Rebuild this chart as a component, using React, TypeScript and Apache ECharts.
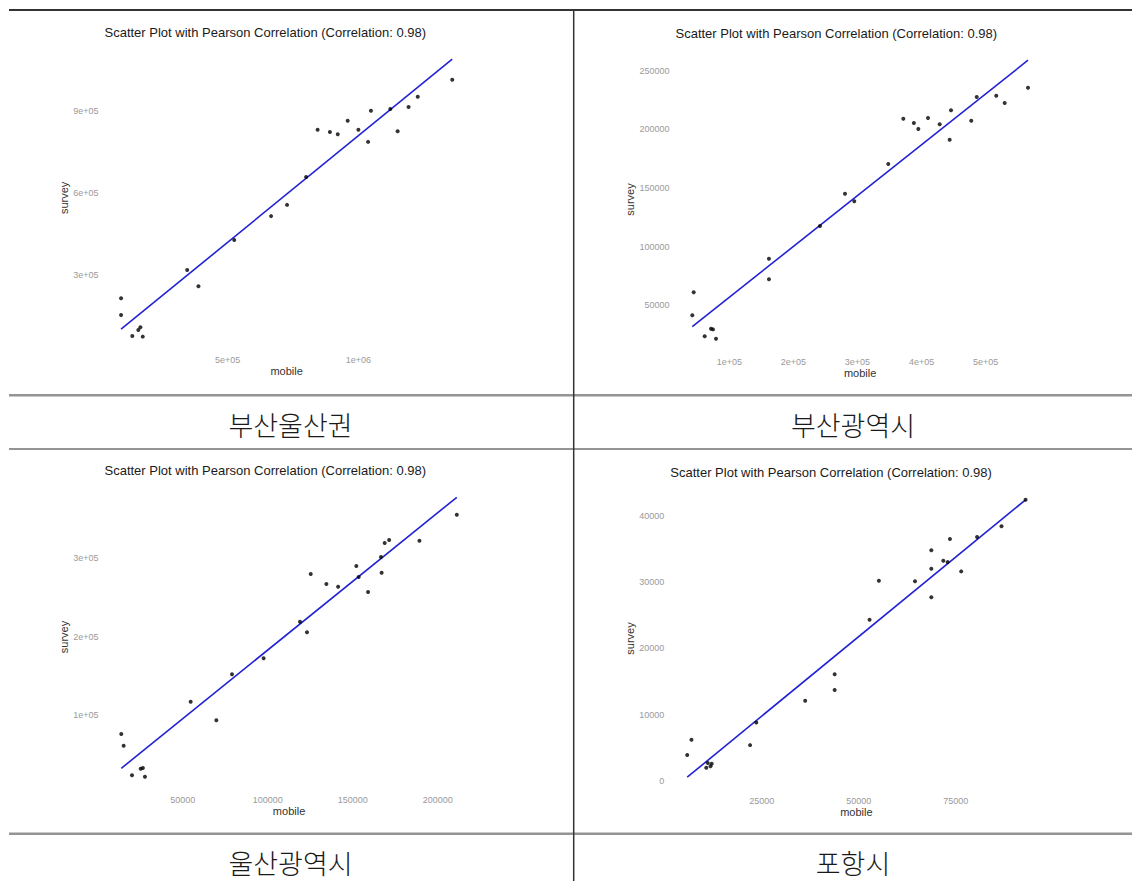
import React, { useEffect, useRef } from "react";
import * as echarts from "echarts";

// ---------- data ----------
const panelCaptions = ["부산울산권", "부산광역시", "울산광역시", "포항시"];
const chartTitle = "Scatter Plot with Pearson Correlation (Correlation: 0.98)";

// 부산울산권
const busanUlsanMobile = [92000, 92000, 135000, 158000, 166000, 175000, 345000, 388000, 525000, 666000, 727000, 800000, 844000, 891000, 921000, 959000, 1000000, 1037000, 1048000, 1122000, 1150000, 1192000, 1227000, 1359000];
const busanUlsanSurvey = [215000, 154000, 77000, 99000, 109000, 75000, 318000, 259000, 428000, 515000, 556000, 658000, 830000, 822000, 814000, 863000, 830000, 786000, 900000, 906000, 825000, 913000, 951000, 1013000];
const busanUlsanFitX = [92000, 1359000];
const busanUlsanFitY = [102000, 1088000];

// 부산광역시
const busanMobile = [42300, 44500, 61600, 71500, 74600, 79300, 161900, 161900, 241500, 280500, 295000, 348000, 371500, 388000, 394900, 410000, 428200, 443800, 445900, 477500, 486000, 516500, 529600, 566000];
const busanSurvey = [41500, 61100, 23600, 30100, 29500, 21500, 89700, 72200, 117600, 145100, 138600, 170400, 209000, 205400, 200300, 209600, 204200, 191100, 216200, 207300, 227500, 228600, 222400, 235400];
const busanFitX = [42300, 566000];
const busanFitY = [31800, 258800];

// 울산광역시
const ulsanMobile = [13900, 15300, 20200, 25300, 26600, 27800, 54700, 69800, 79000, 97600, 119000, 123100, 125300, 134500, 141400, 152100, 153500, 159000, 166600, 167000, 168800, 171400, 189200, 211200];
const ulsanSurvey = [76200, 61300, 23600, 32000, 32900, 21800, 117300, 93600, 152200, 172600, 219200, 205700, 280000, 267300, 263800, 290200, 276200, 257100, 301700, 281700, 319500, 323300, 322400, 355500];
const ulsanFitX = [13900, 211200];
const ulsanFitY = [32500, 377700];

// 포항시
const pohangMobile = [5800, 6900, 10700, 11100, 11800, 12100, 22000, 23600, 36200, 43800, 43800, 52800, 55200, 64500, 68700, 68700, 68700, 71800, 72900, 73500, 76400, 80500, 86800, 93000];
const pohangSurvey = [3900, 6200, 2000, 2700, 2200, 2600, 5400, 8800, 12100, 16100, 13700, 24300, 30200, 30100, 34800, 32000, 27700, 33200, 33000, 36500, 31600, 36800, 38400, 42400];
const pohangFitX = [5800, 93000];
const pohangFitY = [560, 42400];

// tick values and labels
const busanUlsanXTicks = [500000, 1000000];
const busanUlsanXLabels = ["5e+05", "1e+06"];
const busanUlsanYTicks = [300000, 600000, 900000];
const busanUlsanYLabels = ["3e+05", "6e+05", "9e+05"];

const busanXTicks = [100000, 200000, 300000, 400000, 500000];
const busanXLabels = ["1e+05", "2e+05", "3e+05", "4e+05", "5e+05"];
const busanYTicks = [50000, 100000, 150000, 200000, 250000];
const busanYLabels = ["50000", "100000", "150000", "200000", "250000"];

const ulsanXTicks = [50000, 100000, 150000, 200000];
const ulsanXLabels = ["50000", "100000", "150000", "200000"];
const ulsanYTicks = [100000, 200000, 300000];
const ulsanYLabels = ["1e+05", "2e+05", "3e+05"];

const pohangXTicks = [25000, 50000, 75000];
const pohangXLabels = ["25000", "50000", "75000"];
const pohangYTicks = [0, 10000, 20000, 30000, 40000];
const pohangYLabels = ["0", "10000", "20000", "30000", "40000"];

const FONT = "'Liberation Sans', Arial, Helvetica, sans-serif";

type Panel = {
  mx: number[]; sy: number[]; fx: number[]; fy: number[];
  xt: number[]; xl: string[]; yt: number[]; yl: string[];
  grid: { left: number; top: number; width: number; height: number };
};

const panels: Panel[] = [
  { mx: busanUlsanMobile, sy: busanUlsanSurvey, fx: busanUlsanFitX, fy: busanUlsanFitY, xt: busanUlsanXTicks, xl: busanUlsanXLabels, yt: busanUlsanYTicks, yl: busanUlsanYLabels, grid: { left: 104.5, top: 45.3, width: 364.3, height: 305.2 } },
  { mx: busanMobile, sy: busanSurvey, fx: busanFitX, fy: busanFitY, xt: busanXTicks, xl: busanXLabels, yt: busanYTicks, yl: busanYLabels, grid: { left: 675.5, top: 46.3, width: 369.3, height: 306.4 } },
  { mx: ulsanMobile, sy: ulsanSurvey, fx: ulsanFitX, fy: ulsanFitY, xt: ulsanXTicks, xl: ulsanXLabels, yt: ulsanYTicks, yl: ulsanYLabels, grid: { left: 104.5, top: 483.3, width: 369.1, height: 307.4 } },
  { mx: pohangMobile, sy: pohangSurvey, fx: pohangFitX, fy: pohangFitY, xt: pohangXTicks, xl: pohangXLabels, yt: pohangYTicks, yl: pohangYLabels, grid: { left: 670.3, top: 485.9, width: 372.2, height: 305.2 } },
];

function expandRange(vals: number[]) {
  const lo = Math.min(...vals);
  const hi = Math.max(...vals);
  const pad = (hi - lo) * 0.05;
  return { min: lo - pad, max: hi + pad };
}

function buildOption() {
  const grids: any[] = [];
  const xAxes: any[] = [];
  const yAxes: any[] = [];
  const series: any[] = [];
  const titles: any[] = [];

  panels.forEach((p, i) => {
    grids.push({ ...p.grid, containLabel: false });
    const xr = expandRange([...p.mx, ...p.fx]);
    const yr = expandRange([...p.sy, ...p.fy]);
    xAxes.push({
      type: "value", gridIndex: i, min: xr.min, max: xr.max,
      axisLine: { show: false }, axisTick: { show: false }, splitLine: { show: false },
      axisLabel: {
        customValues: p.xt, color: "#9a9a9a", fontSize: 9, fontFamily: FONT, margin: 5,
        formatter: (v: number) => p.xl[p.xt.indexOf(v)] ?? "",
      },
      name: "mobile", nameLocation: "middle", nameGap: 15,
      nameTextStyle: { color: "#333", fontSize: 11, fontFamily: FONT },
    });
    yAxes.push({
      type: "value", gridIndex: i, min: yr.min, max: yr.max,
      axisLine: { show: false }, axisTick: { show: false }, splitLine: { show: false },
      axisLabel: {
        customValues: p.yt, color: "#9a9a9a", fontSize: 9, fontFamily: FONT, margin: 6,
        formatter: (v: number) => p.yl[p.yt.indexOf(v)] ?? "",
      },
      name: "survey", nameLocation: "middle", nameGap: 33,
      nameTextStyle: { color: "#333", fontSize: 11, fontFamily: FONT },
    });
    series.push({
      type: "line", xAxisIndex: i, yAxisIndex: i,
      data: p.fx.map((x, k) => [x, p.fy[k]]),
      symbol: "none", lineStyle: { color: "#2222d4", width: 1.6 }, z: 2,
    });
    series.push({
      type: "scatter", xAxisIndex: i, yAxisIndex: i,
      data: p.mx.map((x, k) => [x, p.sy[k]]),
      symbolSize: 4, itemStyle: { color: "#000" }, z: 3,
    });
    titles.push({
      text: chartTitle, left: p.grid.left, top: p.grid.top - 19.5, padding: 0,
      textStyle: { color: "#1a1a1a", fontSize: 13, fontWeight: "normal", fontFamily: FONT },
    });
  });

  const lineStyle = { stroke: "#2b2b2b", lineWidth: 1.2 };
  const graphics: any[] = [
    { type: "line", shape: { x1: 9, y1: 10, x2: 1132, y2: 10 }, style: { stroke: "#333", lineWidth: 1.8 } },
    { type: "line", shape: { x1: 9, y1: 395, x2: 1132, y2: 395 }, style: lineStyle },
    { type: "line", shape: { x1: 9, y1: 396.5, x2: 1132, y2: 396.5 }, style: { stroke: "#c8c8c8", lineWidth: 1 } },
    { type: "line", shape: { x1: 9, y1: 449, x2: 1132, y2: 449 }, style: lineStyle },
    { type: "line", shape: { x1: 9, y1: 832.5, x2: 1132, y2: 832.5 }, style: { stroke: "#c8c8c8", lineWidth: 1 } },
    { type: "line", shape: { x1: 9, y1: 834, x2: 1132, y2: 834 }, style: lineStyle },
    { type: "line", shape: { x1: 573.7, y1: 10, x2: 573.7, y2: 881 }, style: { stroke: "#333", lineWidth: 1.5 } },
  ];
  const capPos = [[290.5, 424], [853, 424], [290.5, 862], [853, 862]];
  panelCaptions.forEach((c, i) => {
    graphics.push({
      type: "text", x: capPos[i][0], y: capPos[i][1],
      style: { text: c, fill: "#1a1a1a", fontSize: 27, fontWeight: 300, fontFamily: "'Noto Sans CJK KR', sans-serif", align: "center", verticalAlign: "middle" },
    });
  });

  return {
    animation: false,
    backgroundColor: "#fff",
    title: titles,
    grid: grids,
    xAxis: xAxes,
    yAxis: yAxes,
    series,
    graphic: graphics,
  };
}

export default function App() {
  const ref = useRef<HTMLDivElement>(null);
  useEffect(() => {
    if (!ref.current) return;
    const chart = echarts.init(ref.current, undefined, { renderer: "svg" });
    chart.setOption(buildOption() as any);
    return () => chart.dispose();
  }, []);
  return (
    <div
      ref={ref}
      style={{ position: "absolute", left: 0, top: 0, width: 1132, height: 881, background: "#fff" }}
    />
  );
}
